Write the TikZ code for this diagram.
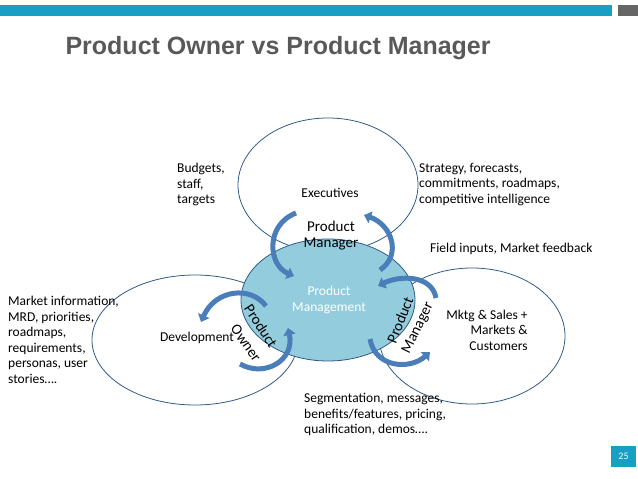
\documentclass[tikz,border=0pt]{standalone}
\usepackage{fontspec}
\setmainfont{Carlito}
\usetikzlibrary{arrows.meta}
\definecolor{barteal}{HTML}{1A9FC4}
\definecolor{ringblue}{HTML}{2E5B87}
\definecolor{hubfill}{HTML}{93CDDD}
\definecolor{bendblue}{HTML}{4A7EBB}
\begin{document}
\begin{tikzpicture}[
                        x = 1pt,
                        y = -1pt,
                        font = \fontsize{13.5}{15.5}\selectfont
                        ]

                        \tikzstyle{ring}=[
                                draw = ringblue,
                                thick
                        ]
                        \tikzstyle{bentarrow}=[
                                draw = bendblue,
                                line width = 5pt,
                                -{Triangle[width=12pt,length=7pt]}
                        ]
                        \tikzstyle{note}=[
                                align = left,
                                anchor = north west,
                                inner sep = 0pt
                        ]

                        \useasboundingbox (0,0) rectangle (638,479);
                        \fill[barteal] (0,5) rectangle (612,16);
                        \fill[gray!80!black] (618,5) rectangle (638,16);
                        \node[anchor=west, text=gray!70!black, font=\fontsize{25}{28}\bfseries\sffamily\fontspec{Liberation Sans}] (title) at (62,48) {Product Owner vs Product Manager};

                        % circles
                        \draw[ring] (328,185) ellipse (90 and 67);
                        \draw[ring] (195,340) ellipse (103 and 65);
                        \draw[ring] (472,336) ellipse (93 and 68);
                        \draw[ring, fill=hubfill] (328,300) ellipse (87 and 61);

                        \node (exec) at (330,193) {Executives};
                        \node (pmtop) at (331,236) [align=center, font=\fontsize{15}{16}\selectfont] {Product\\Manager};
                        \node (hub) at (329,300) [align=center, text=white] {Product\\Management};
                        \node (dev) at (197,338) {Development};
                        \node (mktg) at (487,330) [align=right] {Mktg \& Sales +\\Markets \&\\Customers};

                        \node (po1) at (261,326) [rotate=-57, font=\fontsize{15}{16}\selectfont] {Product};
                        \node (po2) at (246,343) [rotate=-55, font=\fontsize{15}{16}\selectfont] {Owner};
                        \node (pm1) at (400,320) [rotate=68, font=\fontsize{15}{16}\selectfont] {Product};
                        \node (pm2) at (418,328) [rotate=64, font=\fontsize{15}{16}\selectfont] {Manager};

                        % bent arrows
                        \draw[bentarrow] (296,213) .. controls (265,225) and (268,265) .. (294,276);
                        \draw[bentarrow] (380,270) .. controls (402,255) and (392,225) .. (364,215);
                        \draw[bentarrow] (266,306) .. controls (250,285) and (215,290) .. (201,322);
                        \draw[bentarrow] (240,364) .. controls (265,378) and (295,360) .. (288,328);
                        \draw[bentarrow] (436,298) .. controls (432,275) and (400,275) .. (378,286);
                        \draw[bentarrow] (370,339) .. controls (375,368) and (410,370) .. (430,352);

                        % notes
                        \node[note] (budget) at (177,163) {Budgets,\\staff,\\targets};
                        \node[note] (strat) at (419,163) {Strategy, forecasts,\\commitments, roadmaps,\\competitive intelligence};
                        \node[note] (field) at (430,243) {Field inputs, Market feedback};
                        \node[note] (market) at (8,296) {Market information,\\MRD, priorities,\\roadmaps,\\requirements,\\personas, user\\stories\dots.};
                        \node[note] (segm) at (304,393) {Segmentation, messages,\\benefits/features, pricing,\\qualification, demos\dots.};

                        \fill[barteal] (611,446) rectangle (636,467);
                        \node[text=white, font=\fontsize{10}{11}\selectfont] (page) at (623.5,456.5) {25};
                \end{tikzpicture}
\end{document}
